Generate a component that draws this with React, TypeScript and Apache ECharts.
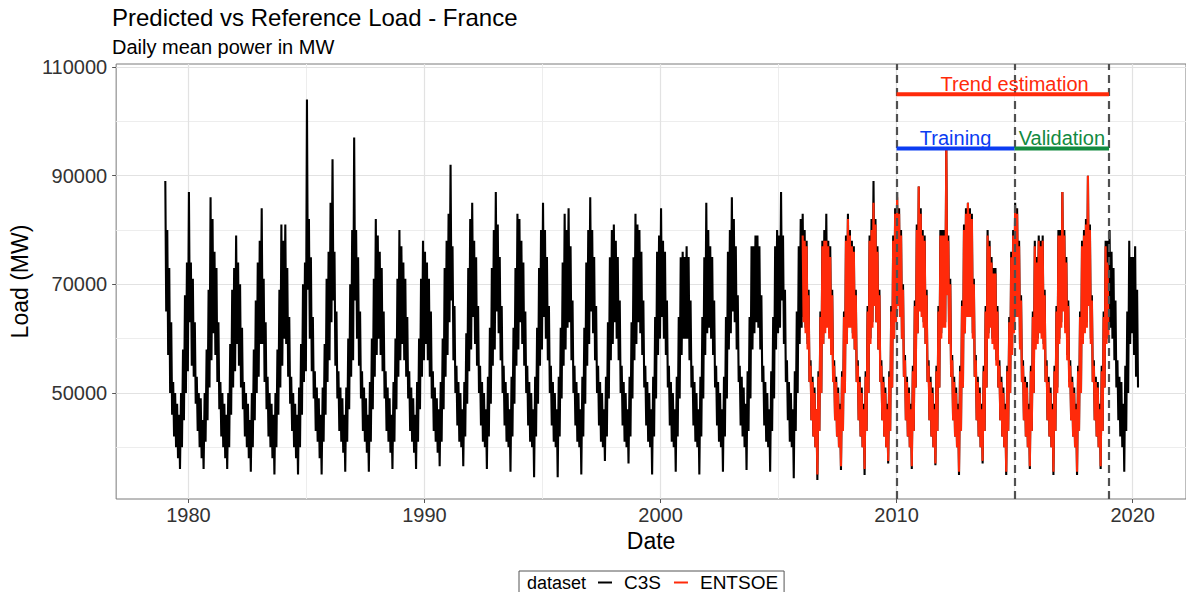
import React, { useEffect, useRef } from "react";
import * as echarts from "echarts";

// ---------- data (values in thousand MW) ----------
// C3S: one row per year, monthly weekly-high and weekly-low envelope values
const c3sYears = [
  1979, 1980, 1981, 1982, 1983, 1984, 1985, 1986, 1987, 1988, 1989, 1990, 1991, 1992,
  1993, 1994, 1995, 1996, 1997, 1998, 1999, 2000, 2001, 2002, 2003, 2004, 2005, 2006,
  2007, 2008, 2009, 2010, 2011, 2012, 2013, 2014, 2015, 2016, 2017, 2018, 2019, 2020,
];
const c3sHigh: number[][] = [
  [89, 80, 73, 63, 52, 50, 48, 46, 50, 58, 68, 74],
  [87, 74, 71, 63, 53, 50, 49, 45, 50, 58, 69, 86],
  [82, 76, 73, 63, 52, 50, 48, 46, 50, 59, 69, 73],
  [79, 74, 70, 62, 52, 50, 48, 45, 50, 58, 67, 74],
  [78, 84, 71, 63, 53, 50, 48, 46, 50, 58, 69, 81],
  [78, 81, 73, 64, 53, 50, 48, 46, 51, 59, 70, 74],
  [104, 82, 75, 64, 54, 51, 49, 46, 51, 59, 71, 76],
  [85, 93, 76, 65, 54, 51, 49, 46, 51, 60, 70, 80],
  [97, 80, 75, 65, 54, 51, 49, 46, 52, 60, 71, 82],
  [79, 76, 73, 65, 54, 51, 49, 46, 52, 60, 71, 80],
  [77, 74, 71, 64, 54, 51, 49, 46, 52, 60, 71, 78],
  [76, 74, 71, 65, 54, 51, 49, 47, 52, 60, 73, 78],
  [83, 92, 77, 66, 55, 52, 50, 47, 52, 61, 73, 82],
  [85, 78, 75, 66, 55, 52, 50, 47, 53, 62, 73, 80],
  [87, 81, 75, 66, 55, 52, 50, 47, 53, 62, 73, 83],
  [82, 78, 74, 65, 55, 52, 50, 47, 53, 62, 73, 80],
  [85, 80, 75, 66, 55, 52, 50, 47, 53, 62, 74, 83],
  [80, 84, 77, 67, 55, 52, 50, 47, 53, 62, 74, 80],
  [86, 80, 75, 66, 55, 52, 50, 47, 53, 63, 75, 80],
  [81, 78, 75, 67, 55, 52, 50, 47, 53, 63, 75, 83],
  [81, 80, 76, 67, 55, 52, 50, 47, 53, 64, 76, 79],
  [84, 78, 76, 67, 55, 52, 50, 47, 53, 64, 75, 76],
  [75, 77, 75, 67, 55, 52, 50, 47, 53, 64, 75, 85],
  [80, 77, 75, 67, 55, 52, 50, 47, 53, 64, 76, 80],
  [86, 82, 77, 68, 55, 53, 51, 48, 54, 64, 77, 77],
  [79, 79, 77, 68, 55, 52, 50, 47, 54, 64, 77, 80],
  [79, 87, 79, 69, 56, 52, 50, 47, 54, 65, 77, 82],
  [83, 80, 78, 69, 56, 53, 51, 47, 54, 65, 78, 80],
  [83, 78, 77, 69, 56, 53, 51, 48, 54, 65, 79, 83],
  [80, 78, 77, 69, 56, 53, 51, 48, 54, 66, 79, 82],
  [89, 82, 77, 69, 56, 53, 51, 48, 54, 66, 79, 84],
  [87, 84, 80, 70, 57, 53, 51, 48, 55, 67, 81, 88],
  [84, 80, 79, 69, 56, 53, 51, 48, 55, 66, 80, 80],
  [80, 95, 79, 71, 57, 53, 51, 48, 55, 67, 81, 84],
  [85, 84, 83, 71, 57, 53, 51, 48, 55, 66, 80, 78],
  [75, 73, 73, 66, 56, 53, 51, 48, 55, 64, 76, 80],
  [85, 84, 78, 68, 56, 53, 52, 48, 55, 65, 78, 75],
  [79, 78, 79, 69, 56, 53, 51, 48, 55, 66, 80, 80],
  [87, 80, 75, 67, 56, 53, 51, 48, 55, 65, 78, 80],
  [82, 90, 81, 68, 56, 53, 52, 48, 55, 65, 78, 78],
  [80, 76, 73, 67, 56, 53, 52, 48, 55, 65, 78, 75],
  [75, 77, 69],
];
const c3sLow: number[][] = [
  [65, 57, 50, 46, 42, 40, 38, 36, 40, 45, 50, 54],
  [63, 55, 53, 48, 43, 40, 38, 36, 41, 45, 51, 56],
  [61, 57, 52, 47, 42, 40, 38, 36, 40, 46, 51, 54],
  [59, 55, 51, 47, 42, 40, 38, 35.5, 40, 45, 50, 53],
  [59, 59, 52, 47, 42, 40, 38, 35, 40, 46, 51, 55],
  [60, 59, 53, 48, 43, 40, 38, 35, 40, 46, 52, 54],
  [69, 60, 54, 49, 43, 41, 38, 35, 41, 46, 52, 56],
  [63, 67, 55, 49, 43, 41, 39, 35.5, 41, 47, 53, 56],
  [67, 60, 55, 49, 43, 41, 39, 35.5, 41, 47, 53, 57],
  [60, 57, 54, 49, 43, 41, 39, 36, 41, 47, 53, 56],
  [59, 56, 53, 49, 43, 41, 39, 36, 41, 47, 53, 56],
  [59, 56, 53, 49, 43, 41, 39, 36.5, 41, 47, 53, 57],
  [63, 67, 56, 50, 44, 41, 40, 36.5, 42, 48, 54, 58],
  [64, 59, 55, 50, 44, 41, 40, 36, 42, 48, 55, 58],
  [65, 61, 56, 50, 44, 41, 40, 35.5, 42, 48, 55, 58],
  [63, 59, 55, 50, 44, 41, 40, 34.5, 42, 48, 55, 58],
  [64, 60, 56, 50, 44, 41, 40, 34.5, 42, 49, 55, 58],
  [62, 63, 56, 50, 44, 41, 40, 35, 42, 48, 55, 59],
  [65, 61, 56, 50, 44, 41, 40, 37.5, 42, 49, 56, 59],
  [63, 60, 56, 50, 44, 41, 40, 37, 42, 49, 56, 59],
  [63, 61, 57, 51, 44, 41, 40, 35, 42, 49, 57, 60],
  [64, 60, 57, 51, 44, 41, 40, 35.5, 42, 49, 57, 60],
  [60, 60, 56, 51, 44, 41, 40, 35, 42, 49, 57, 61],
  [62, 60, 57, 51, 44, 41, 40, 35.5, 42, 49, 58, 61],
  [65, 63, 58, 52, 44, 42, 40, 35.8, 43, 49, 58, 61],
  [63, 62, 58, 52, 44, 41, 40, 35.5, 43, 49, 58, 61],
  [62, 67, 59, 52, 45, 41, 40, 34.3, 43, 50, 59, 62],
  [64, 62, 59, 52, 45, 42, 40, 34, 43, 50, 59, 62],
  [63, 61, 58, 52, 45, 42, 40, 35.8, 43, 50, 59, 63],
  [63, 61, 58, 52, 45, 42, 40, 34.9, 43, 50, 60, 63],
  [67, 63, 58, 52, 45, 42, 40, 37, 43, 51, 60, 64],
  [67, 65, 60, 53, 45, 42, 40, 36, 43, 51, 61, 66],
  [65, 63, 59, 52, 45, 42, 40, 36.7, 43, 51, 61, 63],
  [63, 69, 59, 53, 45, 42, 40, 34.9, 43, 51, 61, 64],
  [65, 65, 61, 53, 45, 42, 40, 37, 43, 51, 61, 63],
  [60, 59, 56, 51, 45, 42, 40, 34.9, 43, 50, 58, 62],
  [65, 65, 59, 52, 45, 42, 40, 36, 43, 50, 59, 60],
  [62, 61, 59, 52, 45, 42, 40, 34.9, 43, 51, 60, 63],
  [66, 62, 57, 52, 45, 42, 40, 34.9, 43, 50, 60, 62],
  [63, 67, 60, 52, 45, 42, 40, 36, 43, 51, 60, 62],
  [62, 60, 56, 51, 45, 42, 40, 35.5, 43, 50, 59, 61],
  [57, 53, 51],
];

// ENTSOE: 2006-2018
const entsoeYears = [2006, 2007, 2008, 2009, 2010, 2011, 2012, 2013, 2014, 2015, 2016, 2017, 2018];
const entsoeHigh: number[][] = [
  [79, 78, 77, 68, 55, 52, 50, 47, 53, 64, 77, 78],
  [78, 77, 75, 68, 55, 52, 50, 47, 53, 64, 78, 82],
  [79, 77, 76, 68, 55, 52, 50, 47, 53, 65, 78, 80],
  [85, 81, 76, 68, 55, 52, 50, 47, 53, 65, 78, 83],
  [86, 83, 79, 69, 56, 52, 50, 47, 54, 66, 80, 88],
  [83, 79, 78, 68, 55, 52, 50, 47, 54, 65, 79, 79],
  [79, 95, 78, 70, 56, 52, 50, 47, 54, 66, 80, 83],
  [85, 83, 82, 70, 56, 52, 50, 47, 54, 65, 79, 77],
  [74, 72, 72, 65, 55, 52, 50, 47, 54, 63, 75, 79],
  [84, 83, 77, 67, 55, 52, 51, 47, 54, 64, 77, 74],
  [78, 77, 78, 68, 55, 52, 50, 47, 54, 65, 79, 79],
  [87, 79, 74, 66, 55, 52, 50, 47, 54, 64, 77, 79],
  [81, 90, 80, 67, 55, 52, 51, 47, 54, 64, 77, 74],
];
const entsoeLow: number[][] = [
  [63, 61, 58, 52, 45, 42, 40, 35, 43, 50, 59, 61],
  [62, 60, 57, 52, 45, 42, 40, 36.5, 43, 50, 59, 62],
  [62, 60, 58, 52, 45, 42, 40, 36, 43, 50, 59, 62],
  [66, 63, 58, 52, 45, 42, 40, 37.5, 43, 51, 60, 63],
  [66, 64, 60, 53, 45, 42, 40, 36.5, 43, 51, 61, 65],
  [64, 62, 59, 52, 45, 42, 40, 37, 43, 51, 60, 62],
  [62, 68, 59, 53, 45, 42, 40, 35.5, 43, 51, 61, 64],
  [64, 64, 60, 53, 45, 42, 40, 37.5, 43, 51, 60, 62],
  [59, 58, 55, 51, 45, 42, 40, 35.5, 43, 50, 57, 61],
  [64, 64, 58, 52, 45, 42, 40, 36.5, 43, 50, 58, 59],
  [61, 60, 58, 52, 45, 42, 40, 35.5, 43, 50, 59, 62],
  [65, 61, 56, 51, 45, 42, 40, 35.5, 43, 50, 59, 61],
  [62, 66, 59, 52, 45, 42, 40, 36.5, 43, 51, 59, 60],
];

// axes
const xTicks = [1980, 1990, 2000, 2010, 2020];
const xMinorTicks = [1985, 1995, 2005, 2015];
const yTicks = [50000, 70000, 90000, 110000];
const yMinorTicks = [40000, 60000, 80000, 100000];
const xRange = [1976.94, 2022.26];
const yRange = [30480, 110550];

// periods
const boundaryYears = [2010, 2015, 2019];
const periodNames = ["Trend estimation", "Training", "Validation"];
const periodStart = [2010, 2010, 2015];
const periodEnd = [2019, 2015, 2019];
const periodLevel = [105000, 95000, 95000];
const periodLabelX = [2015, 2012.5, 2017];

// ---------- styles ----------
const FONT = '"Liberation Sans", Arial, Helvetica, sans-serif';
const RED = "#FF2A0A";
const periodColors = [RED, "#0B3CF2", "#128A3F"];

function buildPoints(years: number[], hi: number[][], lo: number[][]) {
  const pts: number[][] = [];
  years.forEach((yr, i) => {
    hi[i].forEach((h, m) => {
      pts.push([yr + (m + 0.27) / 12, h * 1000]);
      pts.push([yr + (m + 0.73) / 12, lo[i][m] * 1000]);
    });
  });
  return pts;
}

export default function App() {
  const ref = useRef<HTMLDivElement>(null);
  useEffect(() => {
    if (!ref.current) return;
    const chart = echarts.init(ref.current, undefined, { renderer: "svg" });
    const gridMajor = { color: "#E2E2E2", width: 1.2, type: "solid" };
    const gridMinor = { color: "#EDEDED", width: 1, type: "solid" };
    const option: any = {
      animation: false,
      textStyle: { fontFamily: FONT },
      title: {
        text: "Predicted vs Reference Load - France",
        subtext: "Daily mean power in MW",
        left: 112,
        top: 5,
        padding: 0,
        itemGap: 8,
        textStyle: { fontSize: 24, fontWeight: "normal", color: "#000", fontFamily: FONT },
        subtextStyle: { fontSize: 20, color: "#000", fontFamily: FONT },
      },
      grid: {
        left: 113,
        top: 64,
        width: 1075,
        height: 435,
        show: true,
        borderColor: "#7a7a7a",
        borderWidth: 1,
        backgroundColor: "transparent",
      },
      xAxis: {
        type: "value",
        min: xRange[0],
        max: xRange[1],
        name: "Date",
        nameLocation: "middle",
        nameGap: 26,
        nameTextStyle: { fontSize: 23, color: "#000", fontFamily: FONT },
        axisLine: { show: false },
        axisTick: { show: true, length: 4, lineStyle: { color: "#555" }, customValues: xTicks },
        axisLabel: {
          customValues: xTicks,
          formatter: (v: number) => String(v),
          fontSize: 20,
          color: "#333",
          margin: 6,
          fontFamily: FONT,
        },
        splitLine: { show: false },
      },
      yAxis: {
        type: "value",
        min: yRange[0],
        max: yRange[1],
        name: "Load (MW)",
        nameLocation: "middle",
        nameGap: 80,
        nameRotate: 90,
        nameTextStyle: { fontSize: 23, color: "#000", fontFamily: FONT },
        axisLine: { show: false },
        axisTick: { show: true, length: 4, lineStyle: { color: "#555" }, customValues: yTicks },
        axisLabel: {
          customValues: yTicks,
          formatter: (v: number) => String(v),
          fontSize: 20,
          color: "#333",
          margin: 9,
          fontFamily: FONT,
        },
        splitLine: { show: false },
      },
      legend: {
        data: ["C3S", "ENTSOE"],
        left: 519,
        top: 571,
        orient: "horizontal",
        padding: [2, 6, 10, 79],
        borderColor: "#555",
        borderWidth: 1,
        itemWidth: 14,
        itemHeight: 2,
        itemGap: 13,
        icon: "rect",
        selectedMode: false,
        textStyle: { fontSize: 19, color: "#000", fontFamily: FONT, padding: [0, 0, 0, 7] },
      },
      graphic: [
        {
          type: "text",
          x: 527,
          y: 583,
          style: { text: "dataset", fontSize: 18, fill: "#000", fontFamily: FONT, verticalAlign: "middle" },
        },
      ],
      series: [
        {
          name: "gridlines",
          type: "line",
          data: [],
          silent: true,
          markLine: {
            silent: true,
            z: 1,
            symbol: ["none", "none"],
            label: { show: false },
            animation: false,
            data: [
              ...xMinorTicks.map((v) => ({ xAxis: v, lineStyle: gridMinor })),
              ...yMinorTicks.map((v) => ({ yAxis: v, lineStyle: gridMinor })),
              ...xTicks.map((v) => ({ xAxis: v, lineStyle: gridMajor })),
              ...yTicks.map((v) => ({ yAxis: v, lineStyle: gridMajor })),
            ],
          },
        },
        {
          name: "C3S",
          type: "line",
          data: buildPoints(c3sYears, c3sHigh, c3sLow),
          showSymbol: false,
          symbol: "none",
          color: "#000",
          lineStyle: { color: "#000", width: 2.1 },
          z: 2,
        },
        {
          name: "ENTSOE",
          type: "line",
          data: buildPoints(entsoeYears, entsoeHigh, entsoeLow),
          showSymbol: false,
          symbol: "none",
          color: RED,
          lineStyle: { color: RED, width: 2.1 },
          z: 3,
        },
        {
          name: "boundaries",
          type: "line",
          data: [],
          silent: true,
          markLine: {
            silent: true,
            z: 5,
            symbol: ["none", "none"],
            label: { show: false },
            animation: false,
            lineStyle: { color: "#505050", width: 2.2, type: [8, 5] },
            data: boundaryYears.map((v) => ({ xAxis: v })),
          },
        },
        ...periodNames.map((n, i) => ({
          name: n + " period",
          type: "line",
          data: [
            [periodStart[i], periodLevel[i]],
            [periodEnd[i], periodLevel[i]],
          ],
          showSymbol: false,
          symbol: "none",
          silent: true,
          color: periodColors[i],
          lineStyle: { color: periodColors[i], width: 4 },
          z: 6,
        })),
        {
          name: "period labels",
          type: "scatter",
          silent: true,
          symbolSize: 0,
          z: 7,
          itemStyle: { opacity: 1 },
          data: periodNames.map((n, i) => ({
            name: n,
            value: [periodLabelX[i], periodLevel[i]],
            label: { color: periodColors[i] },
          })),
          label: {
            show: true,
            position: "top",
            distance: 0,
            opacity: 1,
            formatter: (p: any) => p.name,
            fontSize: 20,
            fontFamily: FONT,
          },
        },
      ],
    };
    chart.setOption(option);
    return () => chart.dispose();
  }, []);
  return (
    <div
      ref={ref}
      style={{ position: "absolute", left: 0, top: 0, width: 1186, height: 592, background: "#fff" }}
    />
  );
}
